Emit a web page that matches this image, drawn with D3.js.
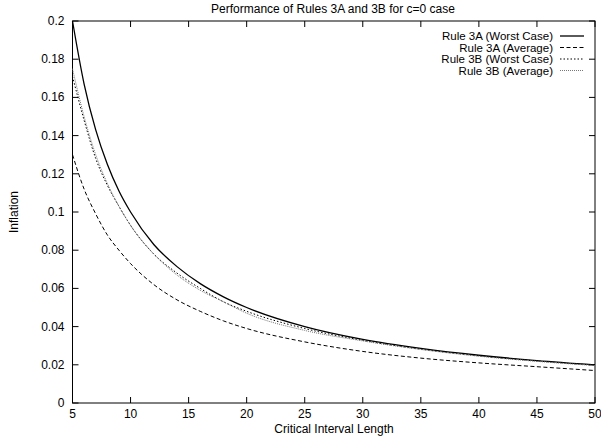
<!DOCTYPE html>
<html><head><meta charset="utf-8">
<script src="https://cdn.jsdelivr.net/npm/d3@7"></script>
<style>body{margin:0;background:#fff}svg{display:block}text{font-family:"Liberation Sans",Arial,sans-serif;fill:#000}</style>
</head><body><svg id="c" width="601" height="437"></svg>
<script>
const xs = [5,6,7,8,9,10,12,14,16,18,20,25,30,35,40,45,50];
const rule3AWorst = [0.2,0.167,0.143,0.125,0.111,0.1,0.083,0.0714,0.0625,0.0556,0.05,0.04,0.0333,0.0286,0.025,0.0222,0.02];
const rule3AAvg   = [0.13,0.112,0.099,0.088,0.080,0.073,0.062,0.054,0.048,0.043,0.039,0.032,0.027,0.0235,0.021,0.019,0.017];
const rule3BWorst = [0.171,0.148,0.128,0.114,0.103,0.093,0.078,0.068,0.060,0.053,0.048,0.039,0.0328,0.0282,0.0247,0.022,0.0198];
const rule3BAvg   = [0.175,0.150,0.130,0.115,0.103,0.093,0.078,0.067,0.059,0.053,0.047,0.038,0.0325,0.028,0.0245,0.0218,0.0196];
const xTicks = [5,10,15,20,25,30,35,40,45,50];
const yTicks = [0,0.02,0.04,0.06,0.08,0.1,0.12,0.14,0.16,0.18,0.2];
const seriesNames = ["Rule 3A (Worst Case)","Rule 3A (Average)","Rule 3B (Worst Case)","Rule 3B (Average)"];

const L=72.5,R=595,T=21,B=403;
const svg=d3.select("#c");
const x=d3.scaleLinear().domain([5,50]).range([L,R]);
const y=d3.scaleLinear().domain([0,0.2]).range([B,T]);
const tl=6, fs=12;
const g=svg.append("g");
g.append("rect").attr("x",L).attr("y",T).attr("width",R-L).attr("height",B-T).attr("fill","none").attr("stroke","#000").attr("stroke-width",1);
xTicks.forEach(t=>{
  g.append("line").attr("x1",x(t)).attr("x2",x(t)).attr("y1",B).attr("y2",B-tl).attr("stroke","#000");
  g.append("line").attr("x1",x(t)).attr("x2",x(t)).attr("y1",T).attr("y2",T+tl).attr("stroke","#000");
  g.append("text").attr("x",x(t)).attr("y",B+15).attr("text-anchor","middle").attr("font-size",fs).text(d3.format("d")(t));
});
yTicks.forEach(t=>{
  g.append("line").attr("x1",L).attr("x2",L+tl).attr("y1",y(t)).attr("y2",y(t)).attr("stroke","#000");
  g.append("line").attr("x1",R).attr("x2",R-tl).attr("y1",y(t)).attr("y2",y(t)).attr("stroke","#000");
  g.append("text").attr("x",L-8).attr("y",y(t)+4).attr("text-anchor","end").attr("font-size",fs).text(t===0?"0":String(+t.toFixed(2)));
});
svg.append("text").attr("x",333).attr("y",13).attr("text-anchor","middle").attr("font-size",fs).text("Performance of Rules 3A and 3B for c=0 case");
svg.append("text").attr("x",334).attr("y",433).attr("text-anchor","middle").attr("font-size",fs).text("Critical Interval Length");
svg.append("text").attr("transform","translate(18,212) rotate(-90)").attr("text-anchor","middle").attr("font-size",fs).text("Inflation");

const styles=[{c:"#000",w:1.3,d:null},{c:"#000",w:1,d:"4,2.5"},{c:"#000",w:1,d:"1.5,2"},{c:"#777",w:1,d:"1,1"}];
const data=[rule3AWorst,rule3AAvg,rule3BWorst,rule3BAvg];
const line=d3.line().x((d,i)=>x(xs[i])).y(d=>y(d)).curve(d3.curveMonotoneX);
data.forEach((s,k)=>{
  svg.append("path").attr("d",line(s)).attr("fill","none").attr("stroke",styles[k].c).attr("stroke-width",styles[k].w).attr("stroke-dasharray",styles[k].d);
});
seriesNames.forEach((n,k)=>{
  const yy=36+k*11.5;
  svg.append("text").attr("x",553).attr("y",yy+4).attr("text-anchor","end").attr("font-size",11.5).text(n);
  svg.append("line").attr("x1",560).attr("x2",584).attr("y1",yy).attr("y2",yy).attr("stroke",styles[k].c).attr("stroke-width",styles[k].w).attr("stroke-dasharray",styles[k].d);
});
</script></body></html>
